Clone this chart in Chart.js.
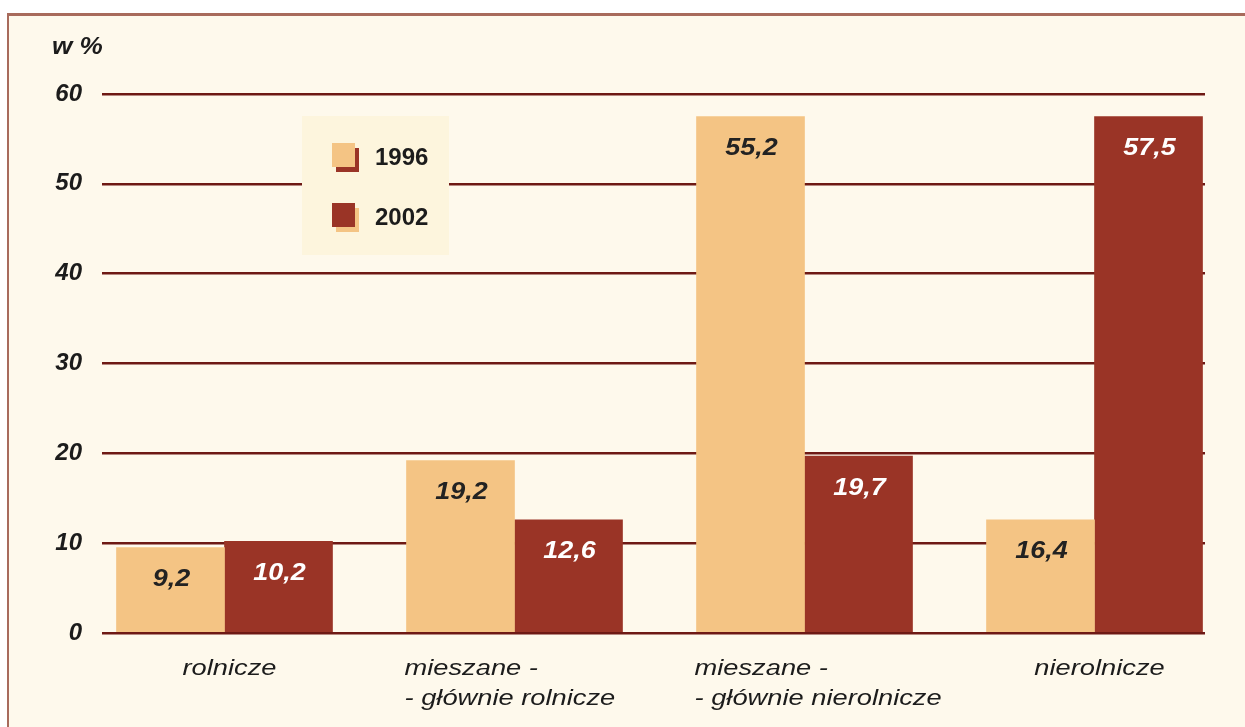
<!DOCTYPE html>
<html>
<head>
<meta charset="utf-8">
<script src="https://cdn.jsdelivr.net/npm/chart.js@4"></script>
<style>
  body { margin: 0; background: #ffffff; overflow: hidden; }
  #ramka { position: absolute; left: 7px; top: 13px; width: 1300px; height: 800px;
           background: #fef9ec; border-left: 2px solid #a86b5c; border-top: 3px solid #a86b5c; }
  #wykres { position: absolute; left: 0; top: 0; }
</style>
</head>
<body>
<div id="ramka"></div>
<canvas id="wykres" width="1245" height="727"></canvas>
<script>
// kategorie i dane
let kategorie = [['rolnicze'], ['mieszane -', '- głównie rolnicze'], ['mieszane -', '- głównie nierolnicze'], ['nierolnicze']];
let lata = ['1996', '2002'];
// wysokości słupków (tak jak są narysowane)
let wartosci1996 = [9.5, 19.2, 57.5, 12.6];
let wartosci2002 = [10.2, 12.6, 19.7, 57.5];
// liczby wypisane na słupkach
let etykiety1996 = ['9,2', '19,2', '55,2', '16,4'];
let etykiety2002 = ['10,2', '12,6', '19,7', '57,5'];
let osY = [0, 10, 20, 30, 40, 50, 60];

let kolory = ['#f4c484', '#9a3426'];
let kolorTekstu = ['#222222', '#ffffff'];
let czcionka = "'Liberation Sans', Arial, sans-serif";

function punkty(wartosci) {
  return wartosci.map((v, i) => ({ x: i, y: v }));
}

// tekst rozciągnięty w poziomie (jak w oryginale)
function napis(ctx, t, x, y, sx) {
  ctx.save();
  ctx.translate(x, y);
  ctx.scale(sx, 1);
  ctx.fillText(t, 0, 0);
  ctx.restore();
}

const dodatki = {
  id: 'dodatki',
  afterDatasetsDraw(chart) {
    let ctx = chart.ctx;
    let etykiety = [etykiety1996, etykiety2002];
    ctx.save();
    ctx.font = 'italic bold 24px ' + czcionka;
    ctx.textAlign = 'center';
    ctx.textBaseline = 'middle';
    chart.data.datasets.forEach((ds, d) => {
      chart.getDatasetMeta(d).data.forEach((el, i) => {
        ctx.fillStyle = kolorTekstu[d];
        napis(ctx, etykiety[d][i], el.x + 1, el.y + 32, 1.12);
      });
    });
    ctx.restore();
  },
  afterDraw(chart) {
    let ctx = chart.ctx;
    let x = chart.scales.x;
    ctx.save();
    // jednostka
    ctx.fillStyle = '#1c1c1c';
    ctx.font = 'italic bold 24px ' + czcionka;
    ctx.textAlign = 'left';
    ctx.textBaseline = 'middle';
    napis(ctx, 'w %', 52, 47, 1.09);

    // legenda
    ctx.fillStyle = '#fdf5dd';
    ctx.fillRect(302, 116, 147, 139);
    lata.forEach((rok, i) => {
      let y = 143 + i * 60;
      ctx.fillStyle = kolory[1 - i];
      ctx.fillRect(336, y + 5, 23, 24);
      ctx.fillStyle = kolory[i];
      ctx.fillRect(332, y, 23, 24);
      ctx.fillStyle = '#1c1c1c';
      ctx.font = 'bold 24px ' + czcionka;
      ctx.fillText(rok, 375, y + 15);
    });

    // podpisy kategorii
    ctx.font = 'italic 22px ' + czcionka;
    ctx.fillStyle = '#1c1c1c';
    kategorie.forEach((linie, i) => {
      let px = x.getPixelForValue(i);
      linie.forEach((t, j) => {
        if (linie.length == 1) {
          ctx.textAlign = 'center';
          napis(ctx, t, px + 5, 669, 1.24);
        } else {
          ctx.textAlign = 'left';
          napis(ctx, t, px - 110, 669 + j * 30, 1.24);
        }
      });
    });
    ctx.restore();
  }
};

let ctx = document.getElementById('wykres').getContext('2d');
let wykres = new Chart(ctx, {
  type: 'bar',
  data: {
    datasets: [
      { label: lata[0], data: punkty(wartosci1996), backgroundColor: kolory[0], barThickness: 108 },
      { label: lata[1], data: punkty(wartosci2002), backgroundColor: kolory[1], barThickness: 108 }
    ]
  },
  options: {
    responsive: false,
    animation: false,
    devicePixelRatio: 1,
    layout: { padding: { top: 94, bottom: 94, left: 52, right: 40 } },
    plugins: { legend: { display: false }, tooltip: { enabled: false } },
    scales: {
      x: { type: 'linear', display: false, offset: false, min: -0.4224, max: 3.381 },
      y: {
        min: 0, max: 60,
        afterBuildTicks(s) { s.ticks = osY.map(v => ({ value: v })); },
        afterFit(s) { s.width = 50; },
        border: { display: false },
        grid: { color: '#6e1914', lineWidth: 2.5, drawTicks: false },
        ticks: {
          padding: 20,
          color: '#1c1c1c',
          font: { family: czcionka, size: 24, weight: 'bold', style: 'italic' }
        }
      }
    }
  },
  plugins: [dodatki]
});
</script>
</body>
</html>
